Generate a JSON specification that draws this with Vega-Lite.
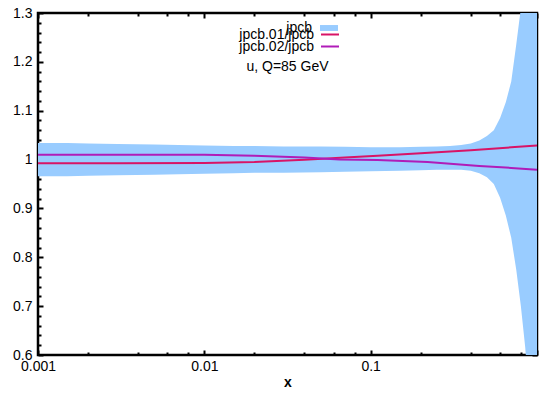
{
  "$schema": "https://vega.github.io/schema/vega-lite/v6.json",
  "width": 499,
  "height": 342,
  "autosize": {"type": "none"},
  "padding": {"left": 38, "top": 13, "right": 2, "bottom": 38},
  "config": {
    "font": "Liberation Sans",
    "view": {"stroke": "#000000", "strokeWidth": 2.5},
    "axis": {"domain": false, "grid": false, "tickColor": "#000000", "tickWidth": 2, "labelColor": "#000000", "labelFontSize": 14, "labelFont": "Liberation Sans", "titleColor": "#000000", "labelFlush": false, "labelOverlap": false, "title": null, "zindex": 1}
  },
  "title": {"text": "u, Q=85 GeV", "anchor": "middle", "frame": "group", "offset": 0, "dy": 68, "fontSize": 14, "font": "Liberation Sans", "fontWeight": "normal", "color": "#000000"},
  "datasets": {
    "band": [
      {"x": 0.001, "lo": 0.966, "hi": 1.034, "name": "jpcb"},
      {"x": 0.0015, "lo": 0.966, "hi": 1.034, "name": "jpcb"},
      {"x": 0.002, "lo": 0.967, "hi": 1.033, "name": "jpcb"},
      {"x": 0.003, "lo": 0.968, "hi": 1.032, "name": "jpcb"},
      {"x": 0.005, "lo": 0.969, "hi": 1.031, "name": "jpcb"},
      {"x": 0.007, "lo": 0.970, "hi": 1.030, "name": "jpcb"},
      {"x": 0.01, "lo": 0.971, "hi": 1.029, "name": "jpcb"},
      {"x": 0.015, "lo": 0.972, "hi": 1.028, "name": "jpcb"},
      {"x": 0.02, "lo": 0.973, "hi": 1.028, "name": "jpcb"},
      {"x": 0.03, "lo": 0.973, "hi": 1.027, "name": "jpcb"},
      {"x": 0.05, "lo": 0.974, "hi": 1.027, "name": "jpcb"},
      {"x": 0.07, "lo": 0.975, "hi": 1.026, "name": "jpcb"},
      {"x": 0.1, "lo": 0.976, "hi": 1.025, "name": "jpcb"},
      {"x": 0.15, "lo": 0.977, "hi": 1.025, "name": "jpcb"},
      {"x": 0.2, "lo": 0.978, "hi": 1.026, "name": "jpcb"},
      {"x": 0.25, "lo": 0.979, "hi": 1.027, "name": "jpcb"},
      {"x": 0.3, "lo": 0.979, "hi": 1.028, "name": "jpcb"},
      {"x": 0.35, "lo": 0.979, "hi": 1.030, "name": "jpcb"},
      {"x": 0.4, "lo": 0.977, "hi": 1.033, "name": "jpcb"},
      {"x": 0.45, "lo": 0.972, "hi": 1.039, "name": "jpcb"},
      {"x": 0.5, "lo": 0.964, "hi": 1.048, "name": "jpcb"},
      {"x": 0.55, "lo": 0.950, "hi": 1.060, "name": "jpcb"},
      {"x": 0.6, "lo": 0.922, "hi": 1.085, "name": "jpcb"},
      {"x": 0.65, "lo": 0.885, "hi": 1.118, "name": "jpcb"},
      {"x": 0.7, "lo": 0.840, "hi": 1.160, "name": "jpcb"},
      {"x": 0.75, "lo": 0.775, "hi": 1.235, "name": "jpcb"},
      {"x": 0.8, "lo": 0.700, "hi": 1.310, "name": "jpcb"},
      {"x": 0.85, "lo": 0.615, "hi": 1.420, "name": "jpcb"},
      {"x": 0.9, "lo": 0.500, "hi": 1.560, "name": "jpcb"},
      {"x": 0.95, "lo": 0.350, "hi": 1.750, "name": "jpcb"},
      {"x": 1.0, "lo": 0.200, "hi": 2.000, "name": "jpcb"}
    ],
    "ratios": [
      {"x": 0.001, "r": 0.9925, "series": "jpcb.01/jpcb"},
      {"x": 0.003, "r": 0.9925, "series": "jpcb.01/jpcb"},
      {"x": 0.01, "r": 0.993, "series": "jpcb.01/jpcb"},
      {"x": 0.02, "r": 0.995, "series": "jpcb.01/jpcb"},
      {"x": 0.04, "r": 0.9995, "series": "jpcb.01/jpcb"},
      {"x": 0.07, "r": 1.004, "series": "jpcb.01/jpcb"},
      {"x": 0.11, "r": 1.008, "series": "jpcb.01/jpcb"},
      {"x": 0.2, "r": 1.013, "series": "jpcb.01/jpcb"},
      {"x": 0.4, "r": 1.019, "series": "jpcb.01/jpcb"},
      {"x": 0.7, "r": 1.025, "series": "jpcb.01/jpcb"},
      {"x": 1.0, "r": 1.029, "series": "jpcb.01/jpcb"},
      {"x": 0.001, "r": 1.010, "series": "jpcb.02/jpcb"},
      {"x": 0.01, "r": 1.010, "series": "jpcb.02/jpcb"},
      {"x": 0.02, "r": 1.008, "series": "jpcb.02/jpcb"},
      {"x": 0.04, "r": 1.004, "series": "jpcb.02/jpcb"},
      {"x": 0.065, "r": 1.000, "series": "jpcb.02/jpcb"},
      {"x": 0.11, "r": 0.999, "series": "jpcb.02/jpcb"},
      {"x": 0.22, "r": 0.995, "series": "jpcb.02/jpcb"},
      {"x": 0.45, "r": 0.987, "series": "jpcb.02/jpcb"},
      {"x": 0.7, "r": 0.983, "series": "jpcb.02/jpcb"},
      {"x": 1.0, "r": 0.979, "series": "jpcb.02/jpcb"}
    ]
  },
  "layer": [
    {
      "data": {"name": "band"},
      "mark": {"type": "area", "clip": true, "opacity": 1},
      "encoding": {
        "x": {
          "field": "x", "type": "quantitative",
          "scale": {"type": "log", "domain": [0.001, 1], "nice": false},
          "axis": {
            "orient": "bottom", "title": "x", "titleFontWeight": "bold", "titleFontSize": 14, "titlePadding": 2,
            "values": [0.001, 0.01, 0.1, 1],
            "labelExpr": "datum.value==1?'':datum.value==0.001?'0.001':datum.value==0.01?'0.01':'0.1'",
            "tickSize": -5, "labelPadding": 9
          }
        },
        "y": {
          "field": "lo", "type": "quantitative",
          "scale": {"domain": [0.6, 1.3], "zero": false, "nice": false},
          "axis": {
            "orient": "left",
            "values": [0.6, 0.7, 0.8, 0.9, 1, 1.1, 1.2, 1.3],
            "labelExpr": "format(datum.value, '.1~f')",
            "tickSize": -5, "labelPadding": 11
          }
        },
        "y2": {"field": "hi"},
        "fill": {
          "field": "name", "type": "nominal",
          "scale": {"domain": ["jpcb"], "range": ["#99ccff"]},
          "legend": {"orient": "none", "legendX": 282, "legendY": 6, "title": null, "padding": 0, "symbolType": "M-1,-0.33H1V0.33H-1Z", "symbolSize": 324, "symbolStrokeWidth": 0, "symbolOpacity": 1, "labelAlign": "right", "labelOffset": -26, "labelFontSize": 14, "labelFont": "Liberation Sans", "labelColor": "#000000"}
        }
      }
    },
    {
      "mark": {"type": "rule", "color": "#888888", "strokeWidth": 1},
      "encoding": {
        "x": {
          "datum": 0.001, "type": "quantitative",
          "axis": {"orient": "top", "labels": false, "values": [0.001, 0.01, 0.1, 1], "tickSize": -5}
        },
        "x2": {"datum": 1},
        "y": {
          "datum": 1, "type": "quantitative",
          "axis": {"orient": "right", "labels": false, "values": [0.6, 0.7, 0.8, 0.9, 1, 1.1, 1.2, 1.3], "tickSize": -5}
        }
      }
    },
    {
      "data": {"name": "ratios"},
      "transform": [{"filter": "datum.series == 'jpcb.01/jpcb'"}],
      "mark": {"type": "line", "strokeWidth": 2, "clip": true},
      "encoding": {
        "x": {
          "field": "x", "type": "quantitative",
          "axis": {"orient": "bottom", "labels": false, "tickSize": -3, "values": [0.002, 0.004, 0.006, 0.008, 0.02, 0.04, 0.06, 0.08, 0.2, 0.4, 0.6, 0.8]}
        },
        "y": {
          "field": "r", "type": "quantitative",
          "axis": {"orient": "left", "labels": false, "tickSize": -3, "values": [0.62, 0.64, 0.66, 0.68, 0.72, 0.74, 0.76, 0.78, 0.82, 0.84, 0.86, 0.88, 0.92, 0.94, 0.96, 0.98, 1.02, 1.04, 1.06, 1.08, 1.12, 1.14, 1.16, 1.18, 1.22, 1.24, 1.26, 1.28]}
        },
        "stroke": {
          "field": "series", "type": "nominal",
          "scale": {"domain": ["jpcb.01/jpcb"], "range": ["#d81466"]},
          "legend": {"orient": "none", "legendX": 282, "legendY": 11.5, "title": null, "padding": 0, "symbolType": "stroke", "symbolSize": 324, "symbolStrokeWidth": 2, "labelAlign": "right", "labelOffset": -26, "labelFontSize": 14, "labelFont": "Liberation Sans", "labelColor": "#000000"}
        }
      }
    },
    {
      "data": {"name": "ratios"},
      "transform": [{"filter": "datum.series == 'jpcb.02/jpcb'"}],
      "mark": {"type": "line", "strokeWidth": 2, "clip": true},
      "encoding": {
        "x": {
          "field": "x", "type": "quantitative",
          "axis": {"orient": "top", "labels": false, "tickSize": -3, "values": [0.002, 0.004, 0.006, 0.008, 0.02, 0.04, 0.06, 0.08, 0.2, 0.4, 0.6, 0.8]}
        },
        "y": {
          "field": "r", "type": "quantitative",
          "axis": {"orient": "right", "labels": false, "tickSize": -3, "values": [0.62, 0.64, 0.66, 0.68, 0.72, 0.74, 0.76, 0.78, 0.82, 0.84, 0.86, 0.88, 0.92, 0.94, 0.96, 0.98, 1.02, 1.04, 1.06, 1.08, 1.12, 1.14, 1.16, 1.18, 1.22, 1.24, 1.26, 1.28]}
        },
        "stroke": {
          "field": "series", "type": "nominal",
          "scale": {"domain": ["jpcb.02/jpcb"], "range": ["#b01cb8"]},
          "legend": {"orient": "none", "legendX": 282, "legendY": 23.5, "title": null, "padding": 0, "symbolType": "stroke", "symbolSize": 324, "symbolStrokeWidth": 2, "labelAlign": "right", "labelOffset": -26, "labelFontSize": 14, "labelFont": "Liberation Sans", "labelColor": "#000000"}
        }
      }
    }
  ],
  "resolve": {"axis": {"x": "independent", "y": "independent"}, "scale": {"stroke": "independent"}, "legend": {"stroke": "independent"}}
}
